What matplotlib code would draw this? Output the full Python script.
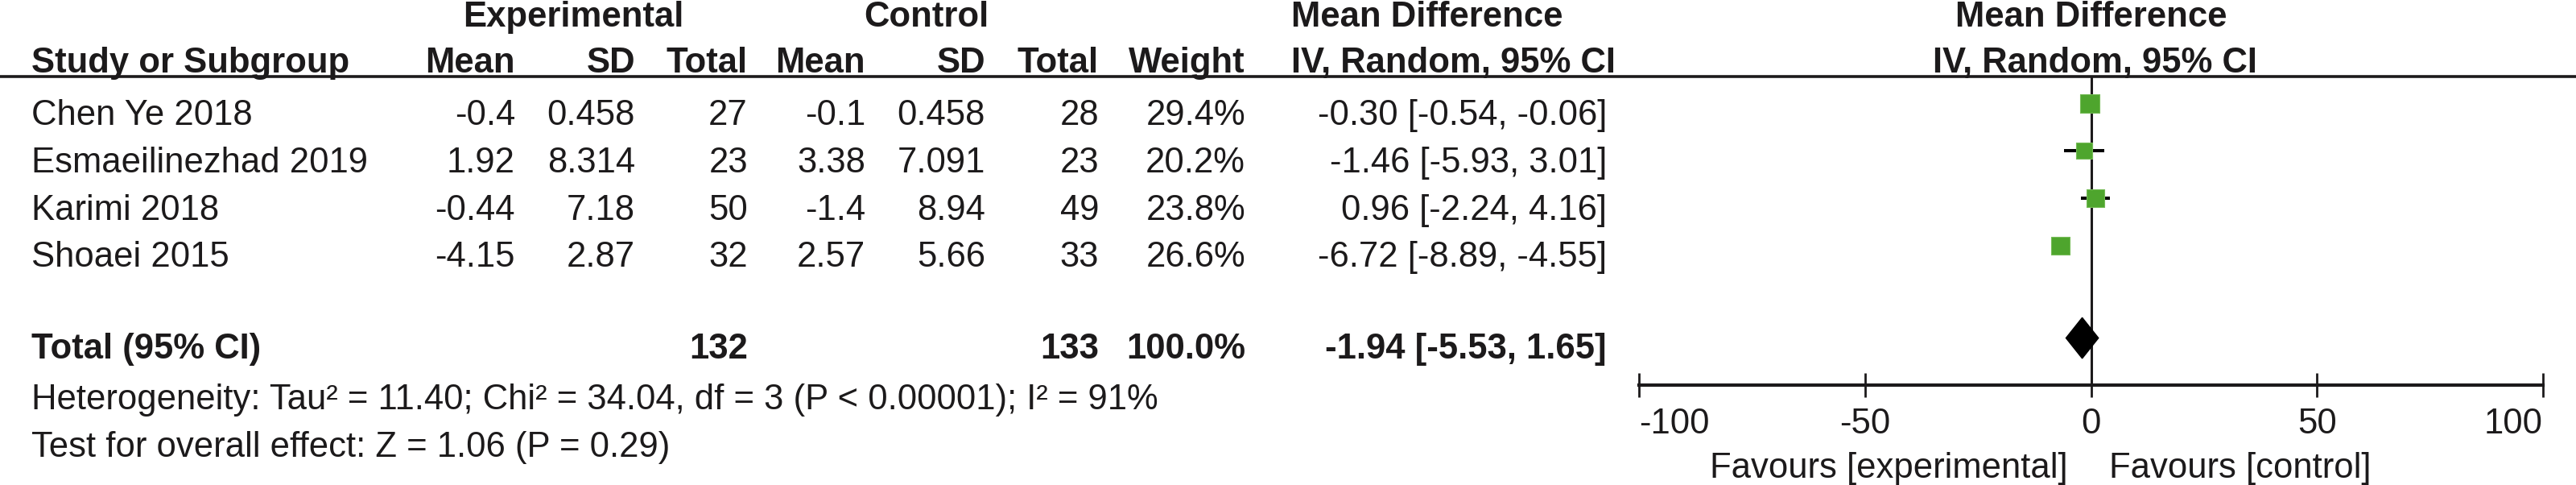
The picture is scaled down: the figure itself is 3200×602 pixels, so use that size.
import numpy as np
import matplotlib.pyplot as plt
from matplotlib.patches import Polygon
from matplotlib.transforms import blended_transform_factory

plt.rcParams['font.family'] = ['Liberation Sans', 'DejaVu Sans']

# data
studies = ["Chen Ye 2018", "Esmaeilinezhad 2019", "Karimi 2018", "Shoaei 2015"]
exp_mean = ["-0.4", "1.92", "-0.44", "-4.15"]
exp_sd = ["0.458", "8.314", "7.18", "2.87"]
exp_n = [27, 23, 50, 32]
ctrl_mean = ["-0.1", "3.38", "-1.4", "2.57"]
ctrl_sd = ["0.458", "7.091", "8.94", "5.66"]
ctrl_n = [28, 23, 49, 33]
weight = [29.4, 20.2, 23.8, 26.6]
md = [-0.30, -1.46, 0.96, -6.72]
md_lo = [-0.54, -5.93, -2.24, -8.89]
md_hi = [-0.06, 3.01, 4.16, -4.55]

total_md, total_lo, total_hi = -1.94, -5.53, 1.65
total_exp_n, total_ctrl_n = 132, 133
heterogeneity = "Heterogeneity: Tau² = 11.40; Chi² = 34.04, df = 3 (P < 0.00001); I² = 91%"
overall = "Test for overall effect: Z = 1.06 (P = 0.29)"
xticks = [-100, -50, 0, 50, 100]

W, H = 3200, 602
FS = 31.4
TXT = '#1c1a1b'
GREEN = '#4ea52d'

fig = plt.figure(figsize=(W / 100, H / 100), dpi=100)
fig.patch.set_facecolor('white')


def t(x, y, s, ha='right', bold=False):
    fig.text(x / W, 1 - y / H, s, ha=ha, va='baseline', fontsize=FS,
             color=TXT, fontweight='bold' if bold else 'normal')


# headers
t(712, 33, "Experimental", ha='center', bold=True)
t(1151, 33, "Control", ha='center', bold=True)
t(1604, 33, "Mean Difference", ha='left', bold=True)
t(2598, 33, "Mean Difference", ha='center', bold=True)

cols = [640, 789, 929, 1075, 1224, 1365, 1547]
t(39, 90, "Study or Subgroup", ha='left', bold=True)
for x, s in zip(cols, ["Mean", "SD", "Total", "Mean", "SD", "Total", "Weight"]):
    t(x, 90, s, bold=True)
t(1604, 90, "IV, Random, 95% CI", ha='left', bold=True)
t(2602, 90, "IV, Random, 95% CI", ha='center', bold=True)

fig.add_artist(plt.Line2D([0, 1], [1 - 95 / H, 1 - 95 / H], color=TXT, lw=2.6))

# study rows
for i in range(len(studies)):
    yb = 155 + 58.8 * i
    t(39, yb, studies[i], ha='left')
    vals = [exp_mean[i], exp_sd[i], str(exp_n[i]), ctrl_mean[i], ctrl_sd[i],
            str(ctrl_n[i]), f"{weight[i]:.1f}%"]
    for x, s in zip(cols, vals):
        t(x, yb, s)
    t(1996, yb, f"{md[i]:.2f} [{md_lo[i]:.2f}, {md_hi[i]:.2f}]")

# total row
t(39, 445, "Total (95% CI)", ha='left', bold=True)
t(929, 445, str(total_exp_n), bold=True)
t(1365, 445, str(total_ctrl_n), bold=True)
t(1547, 445, f"{sum(weight):.1f}%", bold=True)
t(1996, 445, f"{total_md:.2f} [{total_lo:.2f}, {total_hi:.2f}]", bold=True)
t(39, 508, heterogeneity, ha='left')
t(39, 567, overall, ha='left')

# forest plot
ax = fig.add_axes([2036 / W, 1 - 478 / H, 1123 / W, 383 / H])
ax.set_facecolor('none')
ax.set_xlim(-100, 100)
ax.set_ylim(5.944, -0.57)
rows = np.arange(len(studies))
ax.axvline(0, color=TXT, lw=2.2, zorder=1)
ax.hlines(rows, md_lo, md_hi, color='black', lw=2.9, zorder=2)
side = 4.4 * np.sqrt(weight) * 0.72
ax.scatter(md, rows, marker='s', s=side ** 2, color=GREEN, edgecolor='#74bb55',
           linewidths=0.8, zorder=3)
yt = 4.95
ax.add_patch(Polygon([[total_lo, yt], [total_md, yt - 0.43], [total_hi, yt],
                      [total_md, yt + 0.43]], closed=True, color='black', zorder=3))

for s in ['top', 'left', 'right']:
    ax.spines[s].set_visible(False)
ax.spines['bottom'].set_linewidth(3.0)
ax.spines['bottom'].set_color(TXT)
ax.set_yticks([])
ax.set_xticks(xticks)
ax.set_xticklabels([str(v) for v in xticks])
ax.tick_params(axis='x', direction='inout', length=21.6, width=2.0, colors=TXT,
               labelsize=FS, pad=9)
labels = ax.get_xticklabels()
labels[0].set_ha('left')
labels[-1].set_ha('right')

tr = blended_transform_factory(ax.transData, fig.transFigure)
ax.text(-5.1, 1 - 593 / H, "Favours [experimental]", transform=tr, ha='right',
        va='baseline', fontsize=FS, color=TXT)
ax.text(4.0, 1 - 593 / H, "Favours [control]", transform=tr, ha='left',
        va='baseline', fontsize=FS, color=TXT)

fig.savefig('out.png', dpi=100, facecolor='white')
